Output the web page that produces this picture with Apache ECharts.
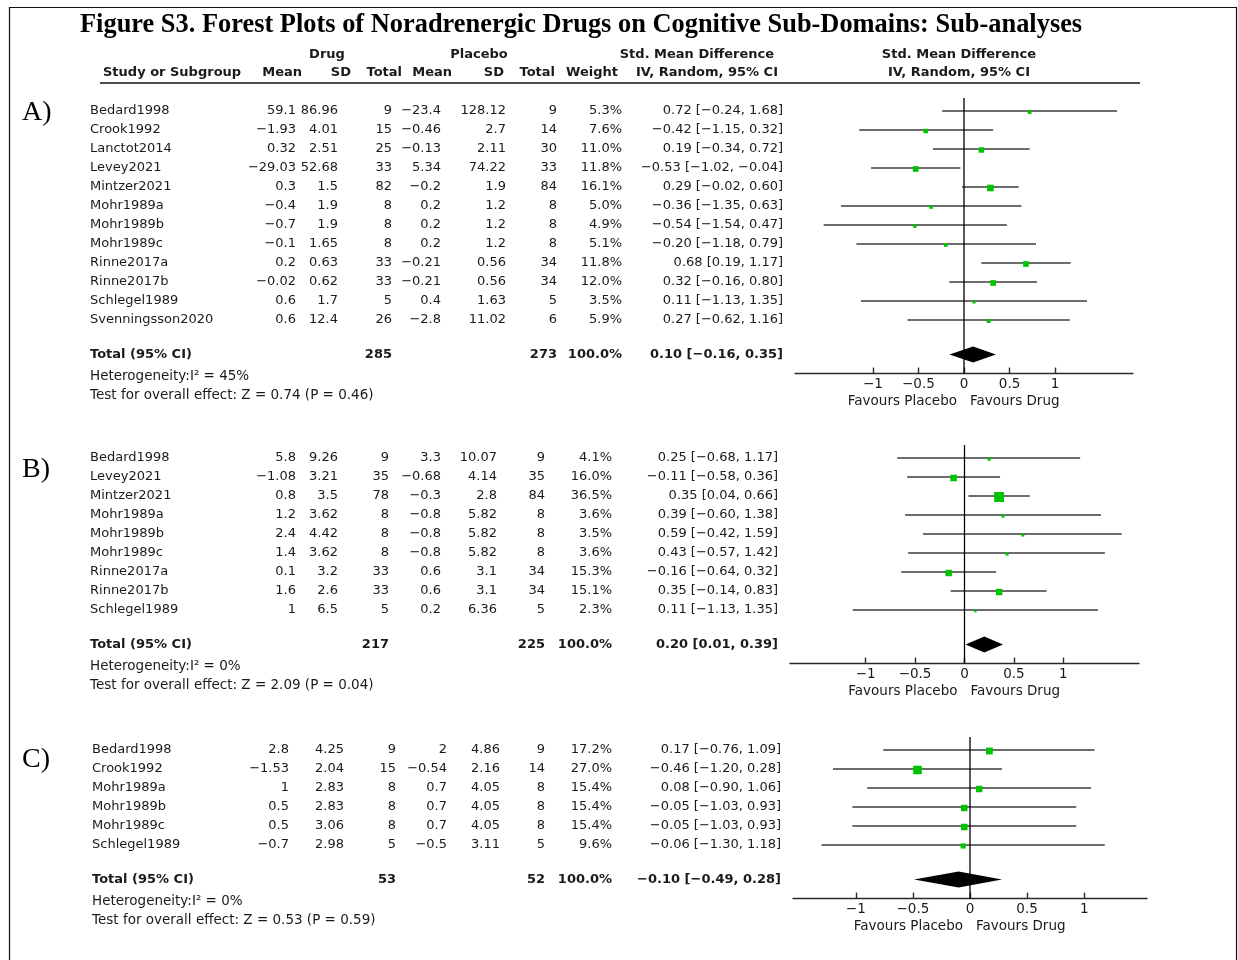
<!DOCTYPE html>
<html>
<head>
<meta charset="utf-8">
<script src="https://cdn.jsdelivr.net/npm/echarts@6/dist/echarts.min.js"></script>
<style>
  html, body { margin: 0; padding: 0; background: #fff; }
  #chart { width: 1238px; height: 960px; }
</style>
</head>
<body>
<div id="chart"></div>
<script>
// ---------- Panel A ----------
const studiesA   = ['Bedard1998','Crook1992','Lanctot2014','Levey2021','Mintzer2021','Mohr1989a','Mohr1989b','Mohr1989c','Rinne2017a','Rinne2017b','Schlegel1989','Svenningsson2020'];
const drugMeanA  = [59.1, -1.93, 0.32, -29.03, 0.3, -0.4, -0.7, -0.1, 0.2, -0.02, 0.6, 0.6];
const drugSdA    = [86.96, 4.01, 2.51, 52.68, 1.5, 1.9, 1.9, 1.65, 0.63, 0.62, 1.7, 12.4];
const drugNA     = [9, 15, 25, 33, 82, 8, 8, 8, 33, 33, 5, 26];
const plcMeanA   = [-23.4, -0.46, -0.13, 5.34, -0.2, 0.2, 0.2, 0.2, -0.21, -0.21, 0.4, -2.8];
const plcSdA     = [128.12, 2.7, 2.11, 74.22, 1.9, 1.2, 1.2, 1.2, 0.56, 0.56, 1.63, 11.02];
const plcNA      = [9, 14, 30, 33, 84, 8, 8, 8, 34, 34, 5, 6];
const weightA    = [5.3, 7.6, 11.0, 11.8, 16.1, 5.0, 4.9, 5.1, 11.8, 12.0, 3.5, 5.9];
const smdA       = [0.72, -0.42, 0.19, -0.53, 0.29, -0.36, -0.54, -0.20, 0.68, 0.32, 0.11, 0.27];
const ciLowA     = [-0.24, -1.15, -0.34, -1.02, -0.02, -1.35, -1.54, -1.18, 0.19, -0.16, -1.13, -0.62];
const ciHighA    = [1.68, 0.32, 0.72, -0.04, 0.60, 0.63, 0.47, 0.79, 1.17, 0.80, 1.35, 1.16];
const totalsA    = [285, 273];
const pooledA    = [0.10, -0.16, 0.35];
const statsA     = { i2: 45, z: 0.74, p: 0.46 };

// ---------- Panel B ----------
const studiesB   = ['Bedard1998','Levey2021','Mintzer2021','Mohr1989a','Mohr1989b','Mohr1989c','Rinne2017a','Rinne2017b','Schlegel1989'];
const drugMeanB  = [5.8, -1.08, 0.8, 1.2, 2.4, 1.4, 0.1, 1.6, 1];
const drugSdB    = [9.26, 3.21, 3.5, 3.62, 4.42, 3.62, 3.2, 2.6, 6.5];
const drugNB     = [9, 35, 78, 8, 8, 8, 33, 33, 5];
const plcMeanB   = [3.3, -0.68, -0.3, -0.8, -0.8, -0.8, 0.6, 0.6, 0.2];
const plcSdB     = [10.07, 4.14, 2.8, 5.82, 5.82, 5.82, 3.1, 3.1, 6.36];
const plcNB      = [9, 35, 84, 8, 8, 8, 34, 34, 5];
const weightB    = [4.1, 16.0, 36.5, 3.6, 3.5, 3.6, 15.3, 15.1, 2.3];
const smdB       = [0.25, -0.11, 0.35, 0.39, 0.59, 0.43, -0.16, 0.35, 0.11];
const ciLowB     = [-0.68, -0.58, 0.04, -0.60, -0.42, -0.57, -0.64, -0.14, -1.13];
const ciHighB    = [1.17, 0.36, 0.66, 1.38, 1.59, 1.42, 0.32, 0.83, 1.35];
const totalsB    = [217, 225];
const pooledB    = [0.20, 0.01, 0.39];
const statsB     = { i2: 0, z: 2.09, p: 0.04 };

// ---------- Panel C ----------
const studiesC   = ['Bedard1998','Crook1992','Mohr1989a','Mohr1989b','Mohr1989c','Schlegel1989'];
const drugMeanC  = [2.8, -1.53, 1, 0.5, 0.5, -0.7];
const drugSdC    = [4.25, 2.04, 2.83, 2.83, 3.06, 2.98];
const drugNC     = [9, 15, 8, 8, 8, 5];
const plcMeanC   = [2, -0.54, 0.7, 0.7, 0.7, -0.5];
const plcSdC     = [4.86, 2.16, 4.05, 4.05, 4.05, 3.11];
const plcNC      = [9, 14, 8, 8, 8, 5];
const weightC    = [17.2, 27.0, 15.4, 15.4, 15.4, 9.6];
const smdC       = [0.17, -0.46, 0.08, -0.05, -0.05, -0.06];
const ciLowC     = [-0.76, -1.20, -0.90, -1.03, -1.03, -1.30];
const ciHighC    = [1.09, 0.28, 1.06, 0.93, 0.93, 1.18];
const totalsC    = [53, 52];
const pooledC    = [-0.10, -0.49, 0.28];
const statsC     = { i2: 0, z: 0.53, p: 0.59 };

const axisTicks  = [-1, -0.5, 0, 0.5, 1];

// ---------- layout ----------
const FONT = 'DejaVu Sans';
const SERIF = 'Liberation Serif';
const TXT = '#1a1a1a';
const PITCH = 19;
const TOTAL_GAP = 1.82;   // rows between last study and the pooled row

const panels = [
  { label: 'A)', labelY: 113, rowY0: 111, xr: 1.854, gridLeft: 795, gridWidth: 338,
    cols: { study: 90, dMean: 296, dSd: 338, dN: 392, pMean: 441, pSd: 506, pN: 557, w: 622, ci: 783 },
    studies: studiesA, dMean: drugMeanA, dSd: drugSdA, dN: drugNA, pMean: plcMeanA, pSd: plcSdA, pN: plcNA,
    weight: weightA, smd: smdA, lo: ciLowA, hi: ciHighA, totals: totalsA, pooled: pooledA, stats: statsA },
  { label: 'B)', labelY: 470, rowY0: 458, xr: 1.765, gridLeft: 790, gridWidth: 349,
    cols: { study: 90, dMean: 296, dSd: 338, dN: 389, pMean: 441, pSd: 497, pN: 545, w: 612, ci: 778 },
    studies: studiesB, dMean: drugMeanB, dSd: drugSdB, dN: drugNB, pMean: plcMeanB, pSd: plcSdB, pN: plcNB,
    weight: weightB, smd: smdB, lo: ciLowB, hi: ciHighB, totals: totalsB, pooled: pooledB, stats: statsB },
  { label: 'C)', labelY: 760, rowY0: 750, xr: 1.55, gridLeft: 793, gridWidth: 354,
    cols: { study: 92, dMean: 289, dSd: 344, dN: 396, pMean: 447, pSd: 500, pN: 545, w: 612, ci: 781 },
    studies: studiesC, dMean: drugMeanC, dSd: drugSdC, dN: drugNC, pMean: plcMeanC, pSd: plcSdC, pN: plcNC,
    weight: weightC, smd: smdC, lo: ciLowC, hi: ciHighC, totals: totalsC, pooled: pooledC, stats: statsC }
];

const minus = s => s.replace(/-/g, '\u2212');
const fmt = v => minus(String(v));
const f2 = v => minus(v.toFixed(2));
const ciText = (e, l, h) => `${f2(e)} [${f2(l)}, ${f2(h)}]`;

function txt(text, x, y, opts) {
  opts = opts || {};
  const align = opts.align || 'left';
  return {
    type: 'text', silent: true,
    style: {
      text, x, y,
      align, textAlign: align,
      verticalAlign: 'middle', textVerticalAlign: 'middle',
      fontFamily: opts.family || FONT,
      fontSize: opts.size || 13,
      fontWeight: opts.bold ? 'bold' : 'normal',
      fill: opts.color || TXT
    }
  };
}

const graphics = [];

// frame
graphics.push({ type: 'polyline', silent: true,
  shape: { points: [[9.5, 965], [9.5, 7.5], [1236.5, 7.5], [1236.5, 965]] },
  style: { stroke: '#111', lineWidth: 1.2, fill: null } });

// title
graphics.push(txt('Figure S3. Forest Plots of Noradrenergic Drugs on Cognitive Sub-Domains: Sub-analyses',
  80, 25, { family: SERIF, size: 26.4, bold: true, color: '#000' }));

// column headers
graphics.push(txt('Drug', 327, 55, { bold: true, align: 'center' }));
graphics.push(txt('Placebo', 479, 55, { bold: true, align: 'center' }));
graphics.push(txt('Std. Mean Difference', 774, 55, { bold: true, align: 'right' }));
graphics.push(txt('Std. Mean Difference', 959, 55, { bold: true, align: 'center' }));
graphics.push(txt('Study or Subgroup', 103, 73, { bold: true }));
graphics.push(txt('Mean', 302, 73, { bold: true, align: 'right' }));
graphics.push(txt('SD', 351, 73, { bold: true, align: 'right' }));
graphics.push(txt('Total', 402, 73, { bold: true, align: 'right' }));
graphics.push(txt('Mean', 452, 73, { bold: true, align: 'right' }));
graphics.push(txt('SD', 504, 73, { bold: true, align: 'right' }));
graphics.push(txt('Total', 555, 73, { bold: true, align: 'right' }));
graphics.push(txt('Weight', 618, 73, { bold: true, align: 'right' }));
graphics.push(txt('IV, Random, 95% CI', 778, 73, { bold: true, align: 'right' }));
graphics.push(txt('IV, Random, 95% CI', 959, 73, { bold: true, align: 'center' }));
graphics.push({ type: 'line', silent: true, shape: { x1: 100, y1: 83, x2: 1140, y2: 83 },
  style: { stroke: '#111', lineWidth: 1.4 } });

const grids = [], xAxes = [], yAxes = [], series = [];

panels.forEach((P, k) => {
  const c = P.cols;
  const n = P.studies.length;
  const totalRow = n - 1 + TOTAL_GAP;
  const yMin = -0.68, yMax = totalRow + 1.0;
  const totalY = P.rowY0 + totalRow * PITCH;

  // panel letter
  graphics.push(txt(P.label, 22, P.labelY, { family: SERIF, size: 28, color: '#000' }));

  // study rows
  P.studies.forEach((name, i) => {
    const y = P.rowY0 + i * PITCH;
    graphics.push(txt(name, c.study, y));
    graphics.push(txt(fmt(P.dMean[i]), c.dMean, y, { align: 'right' }));
    graphics.push(txt(fmt(P.dSd[i]), c.dSd, y, { align: 'right' }));
    graphics.push(txt(String(P.dN[i]), c.dN, y, { align: 'right' }));
    graphics.push(txt(fmt(P.pMean[i]), c.pMean, y, { align: 'right' }));
    graphics.push(txt(fmt(P.pSd[i]), c.pSd, y, { align: 'right' }));
    graphics.push(txt(String(P.pN[i]), c.pN, y, { align: 'right' }));
    graphics.push(txt(P.weight[i].toFixed(1) + '%', c.w, y, { align: 'right' }));
    graphics.push(txt(ciText(P.smd[i], P.lo[i], P.hi[i]), c.ci, y, { align: 'right' }));
  });

  // pooled row + statistics
  graphics.push(txt('Total (95% CI)', c.study, totalY, { bold: true }));
  graphics.push(txt(String(P.totals[0]), c.dN, totalY, { bold: true, align: 'right' }));
  graphics.push(txt(String(P.totals[1]), c.pN, totalY, { bold: true, align: 'right' }));
  graphics.push(txt('100.0%', c.w, totalY, { bold: true, align: 'right' }));
  graphics.push(txt(ciText(P.pooled[0], P.pooled[1], P.pooled[2]), c.ci, totalY, { bold: true, align: 'right' }));
  graphics.push(txt(`Heterogeneity:I\u00B2 = ${P.stats.i2}%`, c.study, totalY + 22, { size: 13.5 }));
  graphics.push(txt(`Test for overall effect: Z = ${P.stats.z.toFixed(2)} (P = ${P.stats.p.toFixed(2)})`,
    c.study, totalY + 41, { size: 13.5 }));

  // forest plot coordinate system
  grids.push({ left: P.gridLeft, width: P.gridWidth,
    top: P.rowY0 + yMin * PITCH, height: (yMax - yMin) * PITCH });
  xAxes.push({
    gridIndex: k, type: 'value', min: -P.xr, max: P.xr,
    axisLine: { show: true, onZero: false, lineStyle: { color: '#2a2a2a', width: 1.4 } },
    axisTick: { show: true, inside: true, length: 6, customValues: axisTicks,
      lineStyle: { color: '#2a2a2a', width: 1.4 } },
    axisLabel: { show: true, customValues: axisTicks, formatter: v => fmt(v), margin: 4,
      fontFamily: FONT, fontSize: 13.5, color: TXT },
    splitLine: { show: false }
  });
  yAxes.push({ gridIndex: k, type: 'value', inverse: true, min: yMin, max: yMax, show: false });

  // confidence intervals and weighted squares
  series.push({
    type: 'custom', xAxisIndex: k, yAxisIndex: k, silent: true, clip: false,
    data: P.studies.map((_, i) => [P.smd[i], i, P.lo[i], P.hi[i], P.weight[i]]),
    renderItem(params, api) {
      const row = api.value(1);
      const a = api.coord([api.value(2), row]);
      const b = api.coord([api.value(3), row]);
      const m = api.coord([api.value(0), row]);
      const s = 1.65 * Math.sqrt(api.value(4));
      return { type: 'group', children: [
        { type: 'line', shape: { x1: a[0], y1: a[1], x2: b[0], y2: b[1] },
          style: { stroke: '#3c3c3c', lineWidth: 1.5 } },
        { type: 'rect', shape: { x: m[0] - s / 2, y: m[1] - s / 2 + 1, width: s, height: s },
          style: { fill: '#00c400' } }
      ] };
    }
  });

  // pooled estimate diamond
  series.push({
    type: 'custom', xAxisIndex: k, yAxisIndex: k, silent: true, clip: false,
    data: [[P.pooled[0], totalRow, P.pooled[1], P.pooled[2]]],
    renderItem(params, api) {
      const row = api.value(1);
      const e = api.coord([api.value(0), row]);
      const l = api.coord([api.value(2), row]);
      const h = api.coord([api.value(3), row]);
      const hh = 8;
      return { type: 'polygon',
        shape: { points: [[l[0], e[1]], [e[0], e[1] - hh], [h[0], e[1]], [e[0], e[1] + hh]] },
        style: { fill: '#000' } };
    }
  });

  // line of no effect and direction captions
  series.push({
    type: 'custom', xAxisIndex: k, yAxisIndex: k, silent: true, clip: false,
    data: [[0]],
    renderItem(params, api) {
      const cs = params.coordSys;
      const x0 = api.coord([api.value(0), 0])[0];
      const bottom = cs.y + cs.height;
      const cap = (text, x, align) => ({ type: 'text',
        style: { text, x, y: bottom + 28, align, textAlign: align,
          verticalAlign: 'middle', textVerticalAlign: 'middle',
          fontFamily: FONT, fontSize: 13.5, fill: TXT } });
      return { type: 'group', children: [
        { type: 'line', shape: { x1: x0, y1: cs.y, x2: x0, y2: bottom },
          style: { stroke: '#000', lineWidth: 1.3 } },
        cap('Favours Placebo', x0 - 7, 'right'),
        cap('Favours Drug', x0 + 6, 'left')
      ] };
    }
  });
});

const chart = echarts.init(document.getElementById('chart'), null, { renderer: 'canvas' });
chart.setOption({
  animation: false,
  backgroundColor: '#fff',
  grid: grids,
  xAxis: xAxes,
  yAxis: yAxes,
  series: series,
  graphic: { elements: graphics }
});
</script>
</body>
</html>
